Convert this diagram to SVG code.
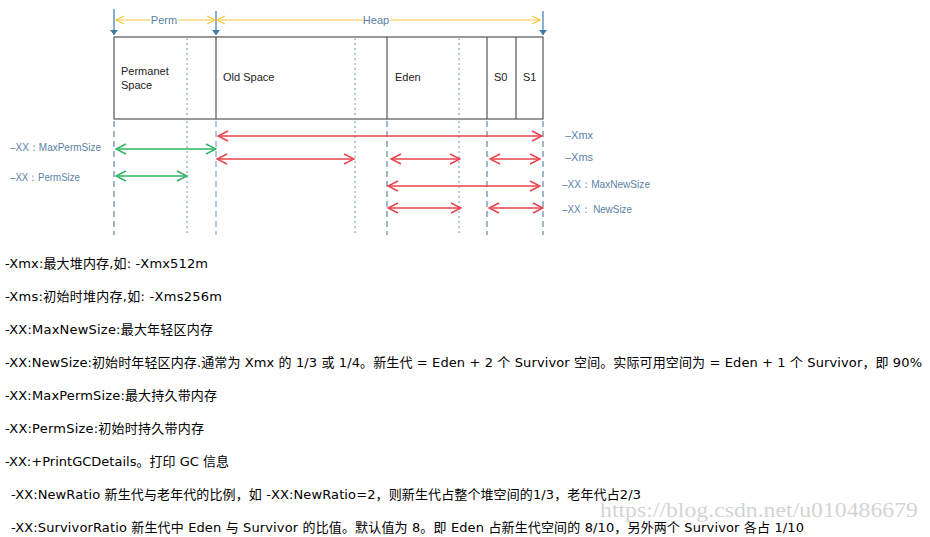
<svg xmlns="http://www.w3.org/2000/svg" width="930" height="537" viewBox="0 0 930 537">
<defs>
<style>
.box{fill:#fff;stroke:#555;stroke-width:1.2}
.div{stroke:#555;stroke-width:1.2}
.dot{stroke:#6a93b8;stroke-width:1;stroke-dasharray:2 3}
.dash{stroke:#6f8fa8;stroke-width:1.3;stroke-dasharray:6 4}
.lbl{font-family:"Liberation Sans",Arial,sans-serif;font-size:11px;fill:#222}
.clbl{font-family:"Liberation Sans",Arial,sans-serif;font-size:11px;fill:#5a7fa6}
.yel{stroke:#f5c842;stroke-width:1.2;fill:none}
.blue{stroke:#4a86b4;stroke-width:1.3;fill:none}
.red{stroke:#e8434b;stroke-width:1.5;fill:none}
.grn{stroke:#2fb463;stroke-width:1.5;fill:none}
.txt{font-family:"DejaVu Sans","Noto Sans CJK SC",sans-serif;font-size:13px;fill:#000}
</style>
<marker id="ya" viewBox="0 0 10 10" refX="9" refY="5" markerWidth="10" markerHeight="10" markerUnits="userSpaceOnUse" orient="auto-start-reverse"><path d="M1,1 L9,5 L1,9" fill="none" stroke="#f5c842" stroke-width="1.2"/></marker>
<marker id="ba" viewBox="0 0 8 8" refX="4" refY="7" markerWidth="8" markerHeight="8" markerUnits="userSpaceOnUse" orient="0"><path d="M0,2 L8,2 L4,7 Z" fill="#3d7aa8"/></marker>
<marker id="ra" viewBox="0 0 12 12" refX="11" refY="6" markerWidth="12" markerHeight="12" markerUnits="userSpaceOnUse" orient="auto-start-reverse"><path d="M1,1 L11,6 L1,11" fill="none" stroke="#e8434b" stroke-width="1.5"/></marker>
<marker id="ga" viewBox="0 0 12 12" refX="11" refY="6" markerWidth="12" markerHeight="12" markerUnits="userSpaceOnUse" orient="auto-start-reverse"><path d="M1,1 L11,6 L1,11" fill="none" stroke="#2fb463" stroke-width="1.5"/></marker>
</defs>
<rect width="930" height="537" fill="#fff"/>

<g id="memory-box">
<rect class="box" x="114" y="37" width="429" height="82"/>
<line class="div" x1="216" y1="37" x2="216" y2="119"/>
<line class="div" x1="387" y1="37" x2="387" y2="119"/>
<line class="div" x1="487" y1="37" x2="487" y2="119"/>
<line class="div" x1="516" y1="37" x2="516" y2="119"/>
<line class="dot" x1="187" y1="38" x2="187" y2="119"/>
<line class="dot" x1="355" y1="38" x2="355" y2="119"/>
<line class="dot" x1="459" y1="38" x2="459" y2="119"/>
</g>
<g id="perm-space"><text class="lbl" x="121" y="75">Permanet</text><text class="lbl" x="121" y="89">Space</text></g>
<g id="old-space"><text class="lbl" x="223" y="81">Old Space</text></g>
<g id="eden"><text class="lbl" x="395" y="81">Eden</text></g>
<g id="s0"><text class="lbl" x="494" y="81">S0</text></g>
<g id="s1"><text class="lbl" x="523" y="81">S1</text></g>

<g id="guides">
<line class="dash" x1="114" y1="121" x2="114" y2="235"/>
<line class="dash" x1="216" y1="121" x2="216" y2="235" style="stroke:#8eaabb"/>
<line class="dash" x1="387" y1="121" x2="387" y2="235"/>
<line class="dash" x1="487" y1="121" x2="487" y2="235"/>
<line class="dash" x1="543" y1="121" x2="543" y2="235"/>
<line class="dot" x1="187" y1="121" x2="187" y2="235"/>
<line class="dot" x1="355" y1="121" x2="355" y2="235"/>
<line class="dot" x1="459" y1="121" x2="459" y2="235"/>
</g>

<g id="connectors">
<line class="blue" x1="114" y1="9" x2="114" y2="35" marker-end="url(#ba)"/>
<line class="blue" x1="216" y1="11" x2="216" y2="35" marker-end="url(#ba)"/>
<line class="blue" x1="543" y1="11" x2="543" y2="35" marker-end="url(#ba)"/>
<line class="yel" x1="116" y1="20" x2="150" y2="20" marker-start="url(#ya)"/>
<line class="yel" x1="178" y1="20" x2="215" y2="20" marker-end="url(#ya)"/>
<line class="yel" x1="217" y1="20" x2="363" y2="20" marker-start="url(#ya)"/>
<line class="yel" x1="390" y1="20" x2="540" y2="20" marker-end="url(#ya)"/>
<line class="red" x1="218" y1="136" x2="542" y2="136" marker-start="url(#ra)" marker-end="url(#ra)"/>
<line class="red" x1="217" y1="159" x2="354" y2="159" marker-start="url(#ra)" marker-end="url(#ra)"/>
<line class="red" x1="391" y1="159" x2="460" y2="159" marker-start="url(#ra)" marker-end="url(#ra)"/>
<line class="red" x1="490" y1="159" x2="540" y2="159" marker-start="url(#ra)" marker-end="url(#ra)"/>
<line class="red" x1="388" y1="186" x2="540" y2="186" marker-start="url(#ra)" marker-end="url(#ra)"/>
<line class="red" x1="388" y1="208" x2="461" y2="208" marker-start="url(#ra)" marker-end="url(#ra)"/>
<line class="red" x1="489" y1="208" x2="543" y2="208" marker-start="url(#ra)" marker-end="url(#ra)"/>
<line class="grn" x1="116" y1="149" x2="216" y2="149" marker-start="url(#ga)" marker-end="url(#ga)"/>
<line class="grn" x1="116" y1="176" x2="187" y2="176" marker-start="url(#ga)" marker-end="url(#ga)"/>
</g>

<g id="dim-labels">
<text class="clbl" x="164" y="24" text-anchor="middle">Perm</text>
<text class="clbl" x="376" y="24" text-anchor="middle">Heap</text>
<text class="clbl" x="10" y="151" textLength="91" lengthAdjust="spacingAndGlyphs">–XX：MaxPermSize</text>
<text class="clbl" x="10" y="181" textLength="70" lengthAdjust="spacingAndGlyphs">–XX：PermSize</text>
<text class="clbl" x="565" y="139">–Xmx</text>
<text class="clbl" x="565" y="161">–Xms</text>
<text class="clbl" x="562" y="188" textLength="88" lengthAdjust="spacingAndGlyphs">–XX：MaxNewSize</text>
<text class="clbl" x="562" y="213" textLength="70" lengthAdjust="spacingAndGlyphs">–XX： NewSize</text>
</g>

<g id="notes">
<text class="txt" x="5" y="268" textLength="203">-Xmx:最大堆内存,如: -Xmx512m</text>
<text class="txt" x="5" y="301" textLength="217">-Xms:初始时堆内存,如: -Xms256m</text>
<text class="txt" x="5" y="334" textLength="208">-XX:MaxNewSize:最大年轻区内存</text>
<text class="txt" x="5" y="367" textLength="917">-XX:NewSize:初始时年轻区内存.通常为 Xmx 的 1/3 或 1/4。新生代 = Eden + 2 个 Survivor 空间。实际可用空间为 = Eden + 1 个 Survivor，即 90%</text>
<text class="txt" x="5" y="400" textLength="212">-XX:MaxPermSize:最大持久带内存</text>
<text class="txt" x="5" y="433" textLength="199">-XX:PermSize:初始时持久带内存</text>
<text class="txt" x="5" y="466" textLength="224">-XX:+PrintGCDetails。打印 GC 信息</text>
<text class="txt" x="11" y="499" textLength="630">-XX:NewRatio 新生代与老年代的比例，如 -XX:NewRatio=2，则新生代占整个堆空间的1/3，老年代占2/3</text>
<text class="txt" x="11" y="532" textLength="793">-XX:SurvivorRatio 新生代中 Eden 与 Survivor 的比值。默认值为 8。即 Eden 占新生代空间的 8/10，另外两个 Survivor 各占 1/10</text>
<text x="600" y="517" textLength="318" lengthAdjust="spacingAndGlyphs" style="font-family:'Liberation Serif','DejaVu Serif',serif;font-size:20px;fill:#c8c8c8;fill-opacity:0.8">https://blog.csdn.net/u010486679</text>
</g>
</svg>
